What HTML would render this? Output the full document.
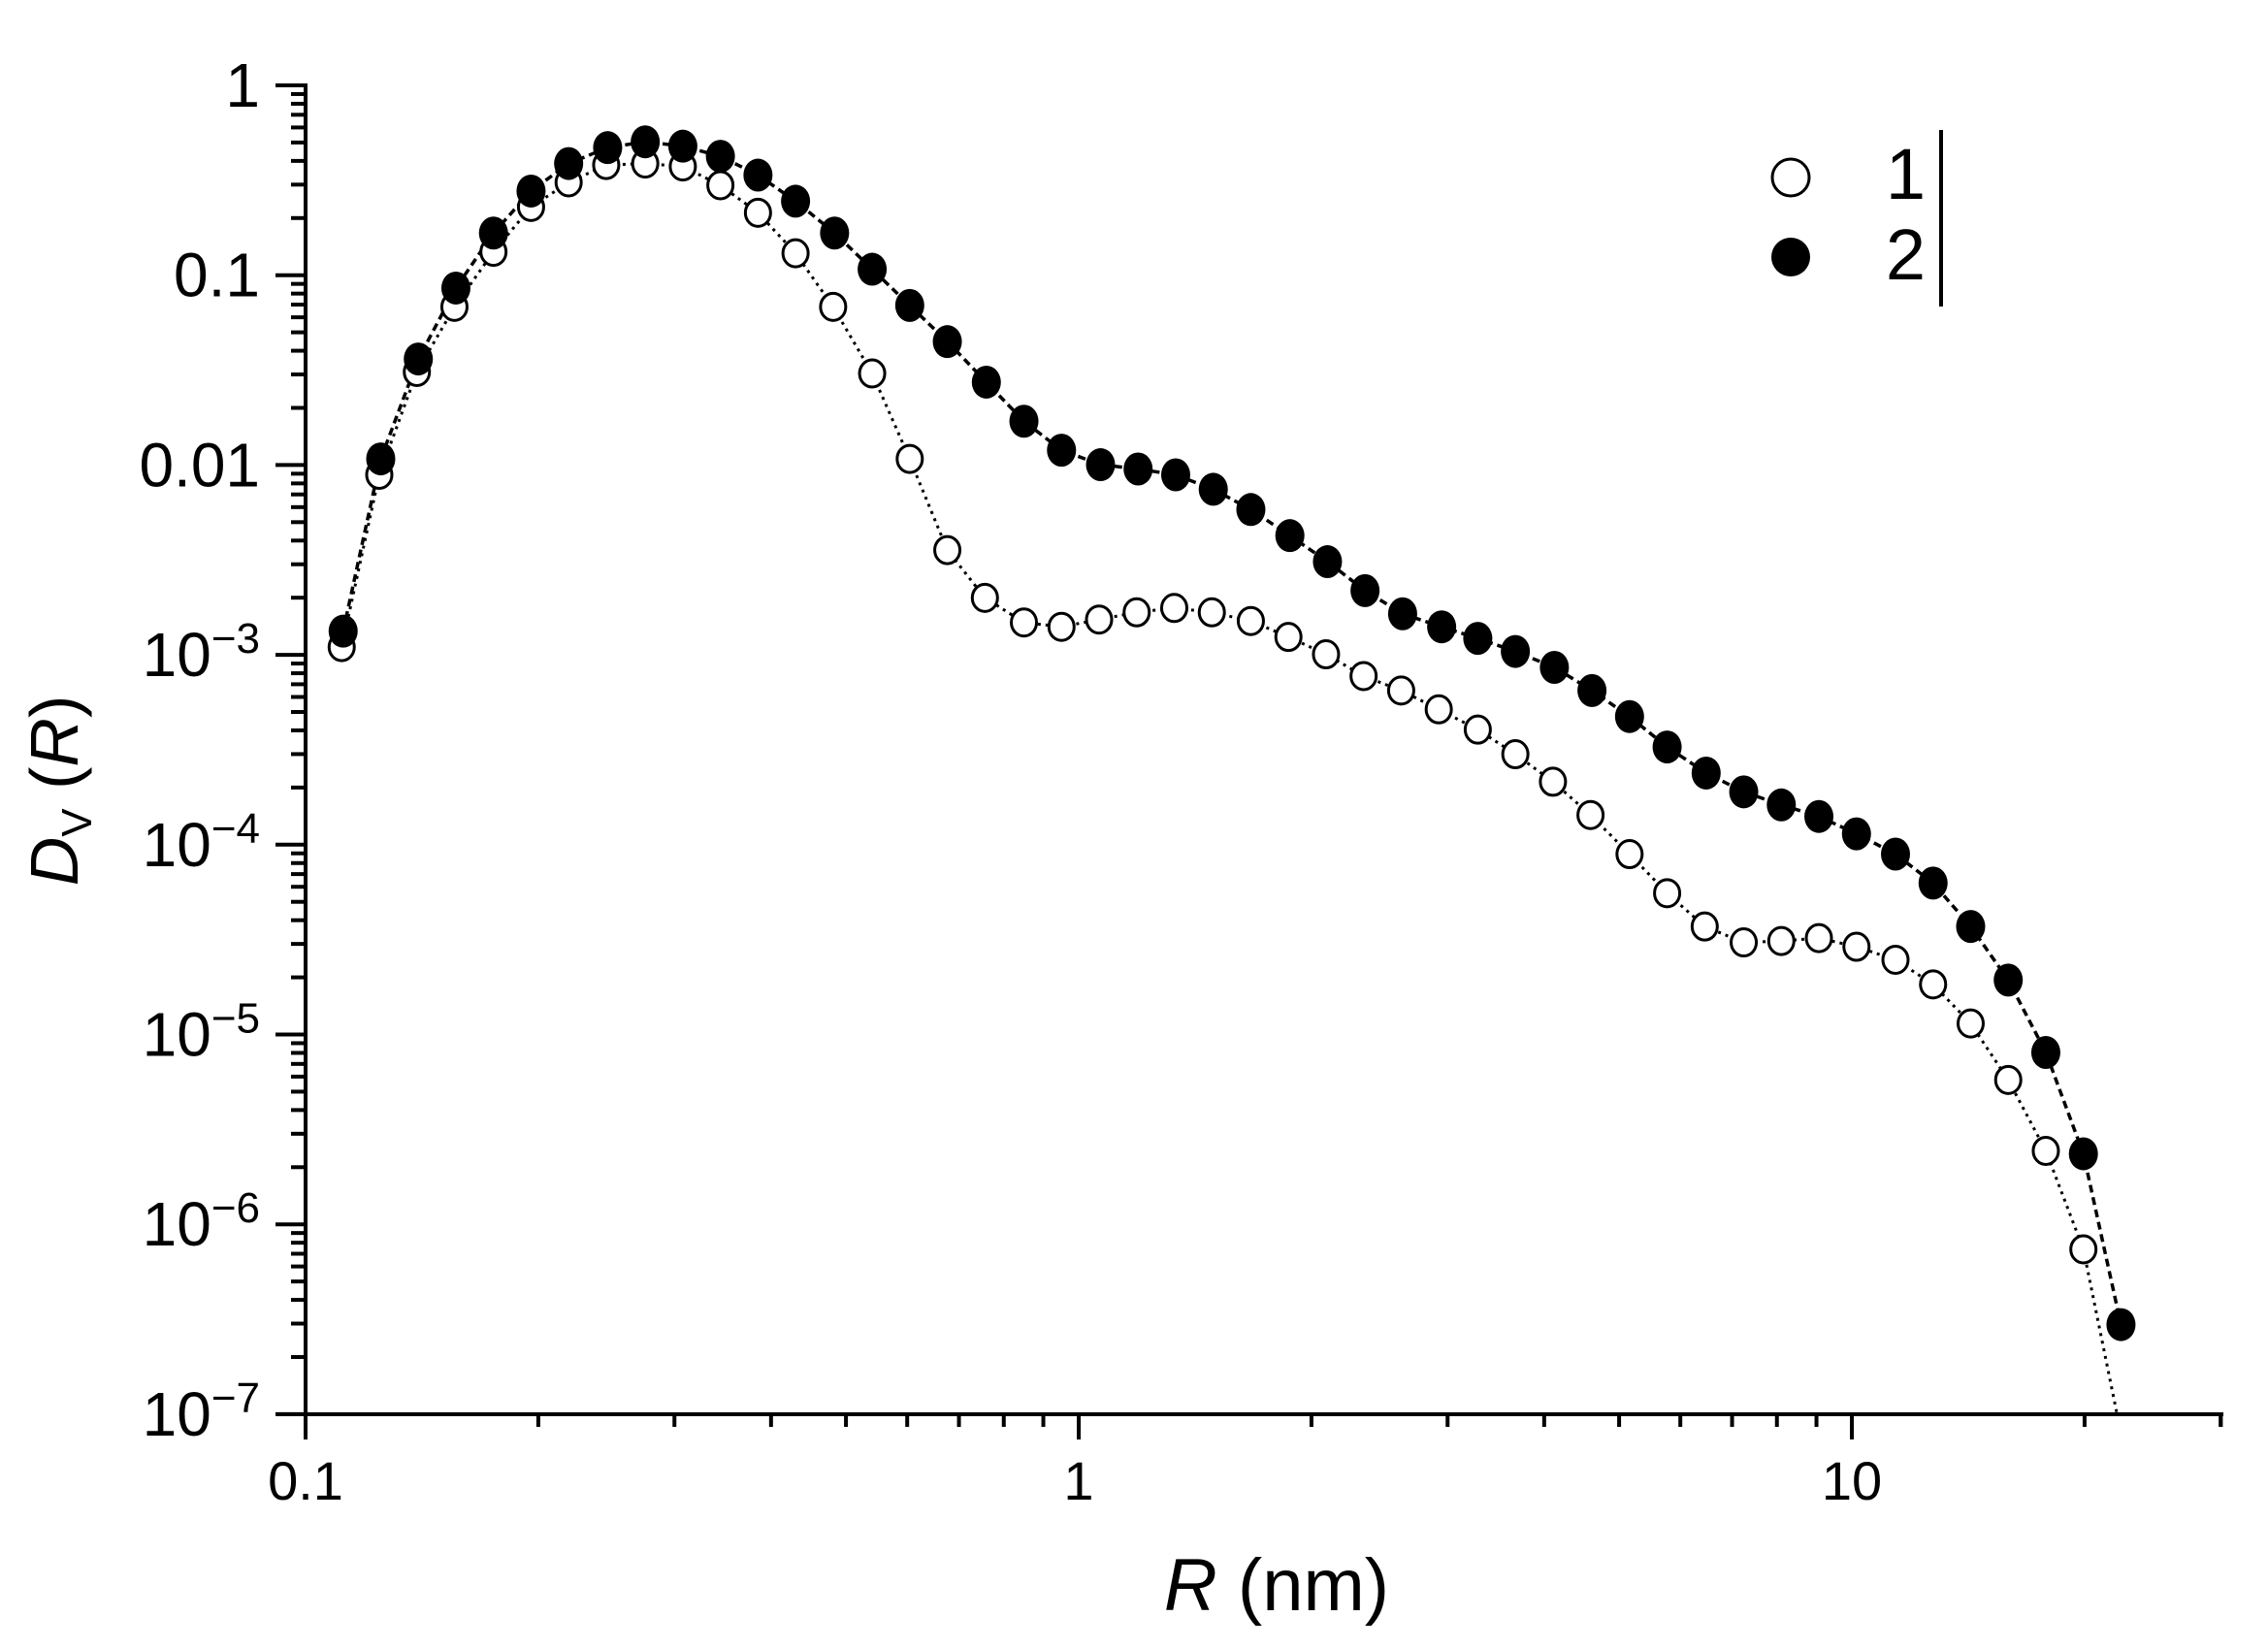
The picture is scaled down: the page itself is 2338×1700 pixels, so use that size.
<!DOCTYPE html>
<html><head><meta charset="utf-8"><style>
html,body{margin:0;padding:0;background:#fff;}
svg{display:block;}
text{font-family:"Liberation Sans",Arial,sans-serif;fill:#000;}
</style></head><body>
<svg id="s" width="2338" height="1700" viewBox="0 0 2338 1700" xmlns="http://www.w3.org/2000/svg">
<defs><clipPath id="cp"><rect x="300" y="0" width="2038" height="1456"/></clipPath></defs>
<g id="axes" stroke="#000" stroke-width="4" fill="none"></g>
<g id="lab"></g>
<g id="data" clip-path="url(#cp)"></g>
<circle cx="1846" cy="183" r="19" fill="#fff" stroke="#000" stroke-width="3"/>
<circle cx="1846" cy="265" r="20" fill="#000"/>
<text x="1985" y="205" font-size="74" text-anchor="end">1</text>
<text x="1985" y="288" font-size="74" text-anchor="end">2</text>
<line x1="2001" y1="134" x2="2001" y2="316" stroke="#000" stroke-width="4"/>
<text x="1316" y="1660" font-size="76" text-anchor="middle"><tspan font-style="italic">R</tspan> (nm)</text>
<g transform="translate(80,815) rotate(-90)">
<text x="0" y="0" font-size="70" text-anchor="middle"><tspan font-style="italic">D</tspan><tspan font-size="44" dy="14">V</tspan><tspan dy="-14"> (</tspan><tspan font-style="italic">R</tspan>)</text>
</g>
</svg>
<script>
var NS="http://www.w3.org/2000/svg";
function el(p,t,a,txt){var e=document.createElementNS(NS,t);for(var k in a)e.setAttribute(k,a[k]);if(txt!==undefined)e.textContent=txt;p.appendChild(e);return e;}
var X0=315,XD=797,Y0=88,YD=195.7,YB=1458;
function xp(v){return X0+(Math.log10(v)+1)*XD;}
var ax=document.getElementById('axes'),lab=document.getElementById('lab');
el(ax,'line',{x1:315,y1:86,x2:315,y2:1484});
el(ax,'line',{x1:285,y1:YB,x2:2292,y2:YB});
for(var d=0;d>=-7;d--){
  var y=Y0-d*YD;
  el(ax,'line',{x1:284,y1:y,x2:315,y2:y});
  if(d>-7){for(var m=2;m<=9;m++){var yy=Y0-(d-1+Math.log10(m))*YD;
    el(ax,'line',{x1:300,y1:yy,x2:315,y2:yy});}}
  var t;
  if(d==0)t=el(lab,'text',{x:268,y:y+22,'font-size':64,'text-anchor':'end'},'1');
  else if(d==-1)t=el(lab,'text',{x:268,y:y+22,'font-size':64,'text-anchor':'end'},'0.1');
  else if(d==-2)t=el(lab,'text',{x:268,y:y+22,'font-size':64,'text-anchor':'end'},'0.01');
  else{t=el(lab,'text',{x:268,y:y+22,'font-size':64,'text-anchor':'end'});
    el(t,'tspan',{},'10');el(t,'tspan',{dy:-24,'font-size':44},'\u2212'+(-d));}
}
for(var e=-1;e<=1;e++){
  for(var m=1;m<=9;m++){var v=m*Math.pow(10,e); if(v>30.01)break;
    var x=xp(v);
    el(ax,'line',{x1:x,y1:YB,x2:x,y2:YB+(m==1?26:13)});}
}
el(ax,'line',{x1:xp(30),y1:YB,x2:xp(30),y2:YB+13});
[['0.1',0.1],['1',1],['10',10]].forEach(function(a){
  el(lab,'text',{x:xp(a[1]),y:1546,'font-size':56,'text-anchor':'middle'},a[0]);});
function tx(X){return 315+(X-211)*1.49;}
function ty(Y){return 88+(Y-59)*1.4925;}
var s2=[[237,436],[263,317],[289,248],[315,199],[341,161],[367,132],[393,113],[420,102],[446,98],[472,101],[498,108],[524,121],[550,139],[577,161],[603,186],[629,211],[655,236],[682,264],[708,291],[734,311],[761,321],[787,324],[813,328],[839,338],[865,352],[892,370],[918,388],[944,408],[970,424],[997,433],[1022,441],[1048,450],[1075,461],[1101,477],[1127,495],[1153,516],[1180,534],[1206,547],[1232,556],[1258,564],[1284,576],[1311,590],[1337,610],[1363,640],[1389,677],[1415,727],[1441,797],[1467,915]];
var s1=[[236,447],[262,328],[288,257],[314,212],[341,174],[367,143],[393,126],[419,114],[446,113],[472,115],[498,128],[524,147],[550,175],[576,212],[603,258],[629,317],[655,380],[681,413],[708,430],[734,433],[760,428],[786,423],[812,420],[838,423],[865,429],[891,440],[917,452],[943,467],[969,477],[995,490],[1022,504],[1048,521],[1074,540],[1100,563],[1127,590],[1153,617],[1179,640],[1206,651],[1232,650],[1258,648],[1284,654],[1311,663],[1337,680],[1363,707],[1389,746],[1415,795],[1441,863],[1467,990]];
var g=document.getElementById('data');
function pts(s){return s.map(function(p){return tx(p[0]).toFixed(1)+','+ty(p[1]).toFixed(1);}).join(' ');}
el(g,'polyline',{points:pts(s1),fill:'none',stroke:'#000','stroke-width':3,'stroke-dasharray':'3,5'});
el(g,'polyline',{points:pts(s2),fill:'none',stroke:'#000','stroke-width':3.5,'stroke-dasharray':'8,5'});
s1.forEach(function(p){el(g,'ellipse',{cx:tx(p[0]),cy:ty(p[1]),rx:13,ry:14,fill:'#fff',stroke:'#000','stroke-width':3});});
s2.forEach(function(p){el(g,'ellipse',{cx:tx(p[0]),cy:ty(p[1]),rx:15,ry:17,fill:'#000'});});
</script>
</body></html>
